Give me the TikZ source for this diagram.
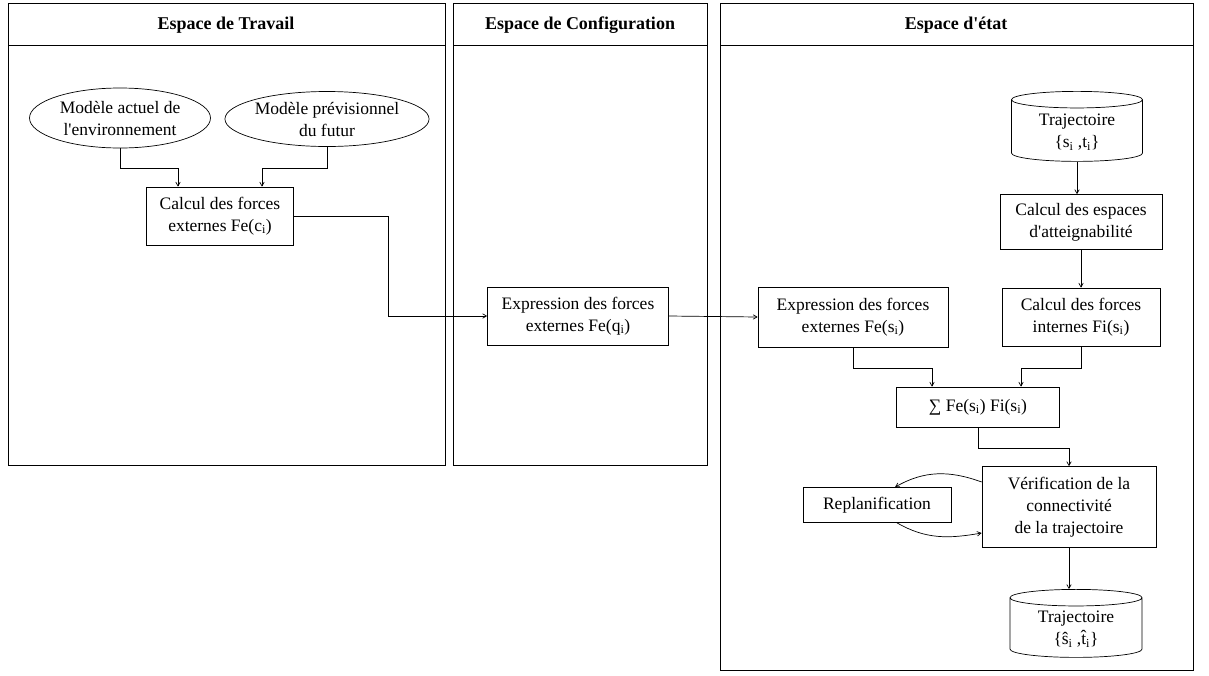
\documentclass[tikz,border=0pt]{standalone}
\usepackage{fontspec}
\setmainfont{Liberation Serif}
\usetikzlibrary{arrows,shapes.geometric}

\begin{document}
\begin{tikzpicture}[x=1pt,y=-1pt,->,>=angle 60,line width=0.7pt,
  font=\fontsize{17.5}{22}\selectfont,
  box/.style={rectangle,draw,align=center,inner sep=2pt},
  oval/.style={ellipse,draw,align=center,inner sep=0pt},
  store/.style={cylinder,shape border rotate=90,aspect=0.2,draw,align=center},
  title/.style={font=\fontsize{18}{22}\selectfont\bfseries}]

  \useasboundingbox (0,0) rectangle (1209,675);

  % the three spaces
  \draw[-] (8,3) rectangle (445,465) (8,45) -- (445,45);
  \draw[-] (453,3) rectangle (707,465) (453,45) -- (707,45);
  \draw[-] (720,3) rectangle (1193,670) (720,45) -- (1193,45);
  \node[title] (t1) at (226,25) {Espace de Travail};
  \node[title] (t2) at (580,25) {Espace de Configuration};
  \node[title] (t3) at (956,25) {Espace d\textquotesingle état};

  \node[oval,minimum width=181,minimum height=60] (env) at (120,118) {Modèle actuel de\\l\textquotesingle environnement};
  \node[oval,minimum width=200,minimum height=55] (fut) at (327,119) {Modèle prévisionnel\\du futur};
  \node[box,minimum width=147,minimum height=58] (calc) at (220,216) {Calcul des forces\\externes Fe(c\textsubscript{i})};

  \node[box,minimum width=181,minimum height=58] (exprq) at (578,316) {Expression des forces\\externes Fe(q\textsubscript{i})};

  \node[store,minimum width=131,minimum height=70] (traj) at (1077,132) {Trajectoire\\\{s\textsubscript{i} ,t\textsubscript{i}\}};
  \node[box,minimum width=162,minimum height=55] (atteint) at (1081,222) {Calcul des espaces\\d\textquotesingle atteignabilité};
  \node[box,minimum width=158,minimum height=58] (fint) at (1081,317) {Calcul des forces\\internes Fi(s\textsubscript{i})};
  \node[box,minimum width=190,minimum height=60] (exprs) at (853,317) {Expression des forces\\externes Fe(s\textsubscript{i})};
  \node[box,minimum width=163,minimum height=40] (somme) at (978,407) {∑ Fe(s\textsubscript{i}) Fi(s\textsubscript{i})};
  \node[box,minimum width=174,minimum height=81] (verif) at (1069,507) {Vérification de la\\connectivité\\de la trajectoire};
  \node[box,minimum width=148,minimum height=35] (replan) at (877,505) {Replanification};
  \node[store,minimum width=132,minimum height=68] (trajn) at (1076,629) {Trajectoire\\\{\^{s}\textsubscript{i} ,\^{t}\textsubscript{i}\}};

  \draw (env.south) -- ++(0,20) -| ([xshift=-42]calc.north);
  \draw (fut.south) -- ++(0,21) -| ([xshift=42]calc.north);
  \draw (calc.east) -- ++(94,0) |- (exprq.west);
  \draw (exprq.east) -- (exprs.west);
  \draw (traj.south) -- (traj.south |- atteint.north);
  \draw (atteint.south) -- (fint.north);
  \draw (exprs.south) -- ++(0,21) -| ([xshift=-46]somme.north);
  \draw (fint.south) -- ++(0,22) -| ([xshift=43]somme.north);
  \draw (somme.south) -- ++(0,21) -| (verif.north);
  \draw ([yshift=25]verif.west) to[out=160,in=30] ([xshift=18]replan.north);
  \draw ([xshift=20]replan.south) to[out=-30,in=190] ([yshift=-26]verif.west);
  \draw (verif.south) -- (verif.south |- trajn.north);
\end{tikzpicture}
\end{document}
